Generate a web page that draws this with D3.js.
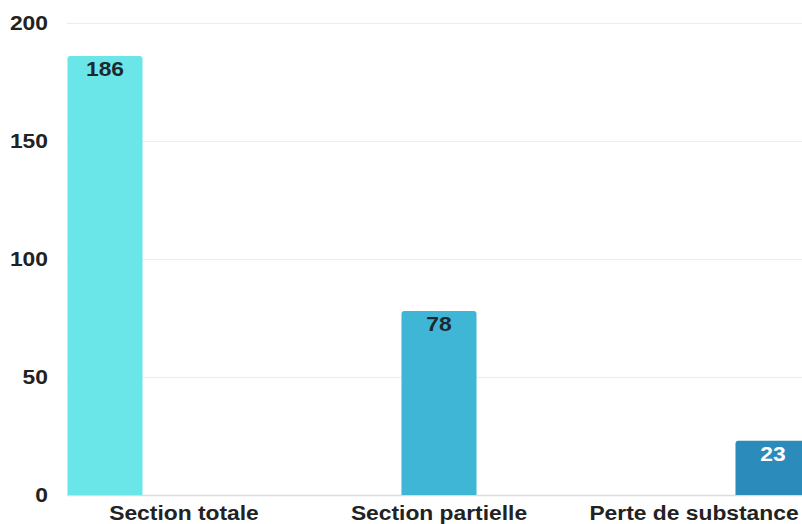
<!DOCTYPE html>
<html>
<head>
<meta charset="utf-8">
<script src="https://cdn.jsdelivr.net/npm/d3@7"></script>
<style>
  html, body { margin: 0; padding: 0; background: #fff; }
  svg { display: block; }
  text { font-family: "Liberation Sans", Arial, sans-serif; font-weight: bold; }
</style>
</head>
<body>
<svg id="chart" width="802" height="524"></svg>
<script>
// Data
const categories = ["Section totale", "Section partielle", "Perte de substance"];
const values = [186, 78, 23];
const barColors = ["#6be6e8", "#40b6d6", "#2b8bbb"];
const labelColors = ["#1d2830", "#1d2830", "#ffffff"];
const yTicks = [0, 50, 100, 150, 200];

const W = 802, H = 524;
const sx = 1.17; // horizontal text stretch
const svg = d3.select("#chart");

const y = d3.scaleLinear().domain([0, 200]).range([495, 23]);

// Category bands (labels) and slots within each category (one per series)
const x = d3.scaleBand().domain(categories).range([56.5, 821.5]).padding(0);
const slot = d3.scaleBand().domain(d3.range(categories.length))
  .range([9, x.bandwidth() - 9]).paddingInner(0.05).paddingOuter(0.025);

// Gridlines
svg.append("g").selectAll("line").data(yTicks).join("line")
  .attr("x1", 67).attr("x2", W)
  .attr("y1", d => Math.round(y(d)) + 0.5).attr("y2", d => Math.round(y(d)) + 0.5)
  .attr("stroke", d => d === 0 ? "#dcdcdc" : "#ececec")
  .attr("stroke-width", d => d === 0 ? 1.5 : 1.2);

// Y tick labels
svg.append("g").selectAll("text").data(yTicks).join("text")
  .attr("transform", d => `translate(48,${y(d)}) scale(${sx},1)`)
  .attr("text-anchor", "end")
  .attr("dominant-baseline", "central")
  .attr("font-size", 19.5)
  .attr("fill", "#222")
  .text(d => d);

// Bars with slightly rounded top corners
const r = 3;
function barPath(x0, w, yTop, yBase) {
  return `M${x0},${yBase}V${yTop + r}Q${x0},${yTop} ${x0 + r},${yTop}` +
         `H${x0 + w - r}Q${x0 + w},${yTop} ${x0 + w},${yTop + r}V${yBase}Z`;
}
const bars = categories.map((c, i) => ({
  cat: c, v: values[i],
  x0: x(c) + slot(i), w: slot.bandwidth(),
  color: barColors[i], lc: labelColors[i]
}));

svg.append("g").selectAll("path").data(bars).join("path")
  .attr("d", d => barPath(d.x0, d.w, y(d.v), y(0)))
  .attr("fill", d => d.color);

// Value labels inside bar tops
svg.append("g").selectAll("text").data(bars).join("text")
  .attr("transform", d => `translate(${d.x0 + d.w / 2},${y(d.v) + 20}) scale(${sx},1)`)
  .attr("text-anchor", "middle")
  .attr("font-size", 19.5)
  .attr("fill", d => d.lc)
  .text(d => d.v);

// Category labels
svg.append("g").selectAll("text").data(categories).join("text")
  .attr("transform", d => `translate(${x(d) + x.bandwidth() / 2},520) scale(${sx},1)`)
  .attr("text-anchor", "middle")
  .attr("font-size", 19.5)
  .attr("fill", "#222")
  .text(d => d);
</script>
</body>
</html>
